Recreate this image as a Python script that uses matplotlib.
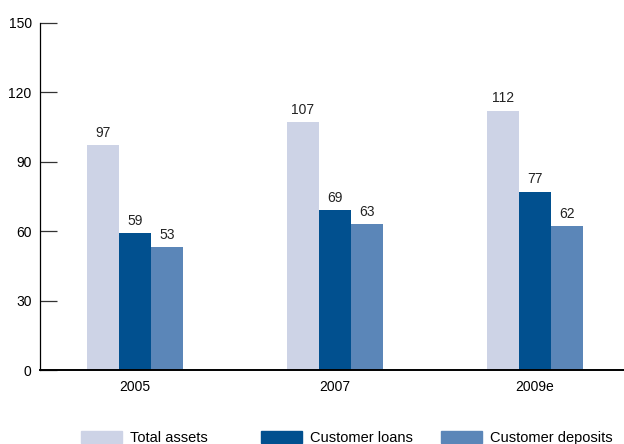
import numpy as np
import matplotlib.pyplot as plt
from matplotlib.patches import Patch

plt.rcParams['font.family'] = ['Liberation Sans', 'DejaVu Sans']

years = ["2005", "2007", "2009e"]
total_assets = [97, 107, 112]
customer_loans = [59, 69, 77]
customer_deposits = [53, 63, 62]

series = [("Total assets", total_assets, "#CDD3E6"),
          ("Customer loans", customer_loans, "#01508F"),
          ("Customer deposits", customer_deposits, "#5B86B8")]

fig = plt.figure(figsize=(6.24, 4.44), dpi=100)
ax = fig.add_axes([40/624, 74/444, 1 - 40/624, (370 - 22.7)/444])

x = np.arange(len(years))
w = 0.16
for i, (name, vals, col) in enumerate(series):
    pos = x + (i - 1) * w
    bars = ax.bar(pos, vals, width=w, color=col, label=name)
    for xp, v in zip(pos, vals):
        ax.annotate(str(v), (xp, v), xytext=(0, 4), textcoords="offset points",
                    ha="center", va="bottom", fontsize=10, color="#222222")

ax.set_xlim(-0.475, 2.445)
ax.set_ylim(0, 150)
ax.set_yticks(range(0, 151, 30))
ax.set_xticks(x)
ax.set_xticklabels(years)
ax.tick_params(axis="y", direction="in", length=12, width=0.9, color="#333333",
               labelsize=10, pad=6)
ax.tick_params(axis="x", length=0, labelsize=10, pad=7)
for s in ["top", "right"]:
    ax.spines[s].set_visible(False)
ax.spines["left"].set_linewidth(0.9)
ax.spines["bottom"].set_linewidth(1.4)

# legend, one entry each so the spacing stays even
for k, (name, vals, col) in enumerate(series):
    fig.legend(handles=[Patch(color=col, label=name)], loc="center left",
               bbox_to_anchor=((82 + 180 * k - 8) / 624, 6/444), frameon=False,
               handlelength=2.8, handleheight=0.85, handletextpad=0.55,
               borderpad=0, fontsize=10.5)

fig.savefig("out.png", dpi=100)
